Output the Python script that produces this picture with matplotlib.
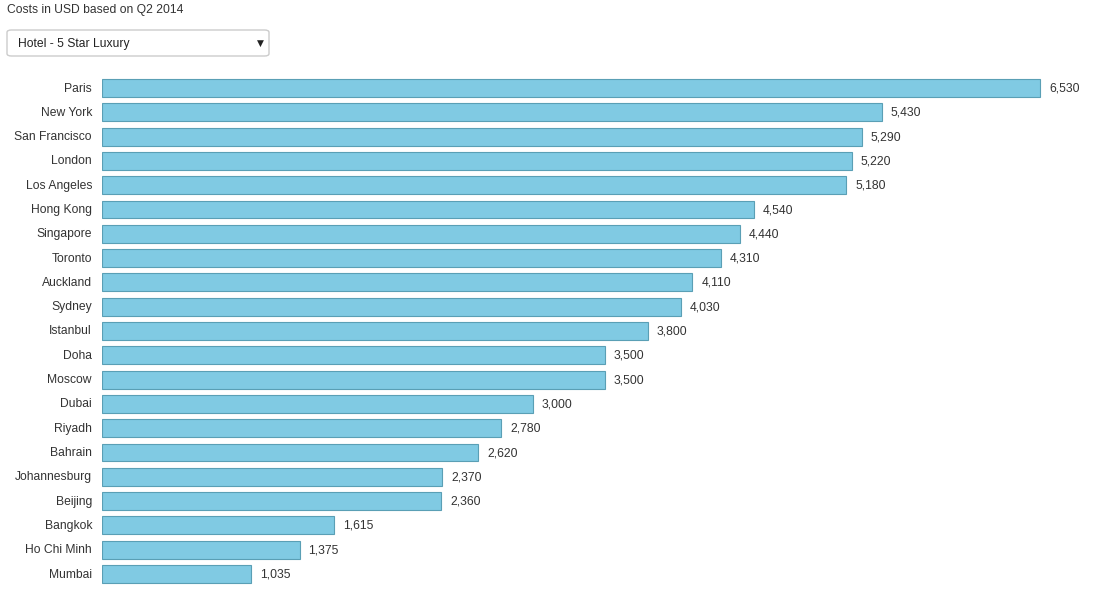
import matplotlib
matplotlib.use("Agg")
import matplotlib.pyplot as plt
from matplotlib.patches import FancyBboxPatch

cities = ["Paris", "New York", "San Francisco", "London", "Los Angeles",
          "Hong Kong", "Singapore", "Toronto", "Auckland", "Sydney",
          "Istanbul", "Doha", "Moscow", "Dubai", "Riyadh", "Bahrain",
          "Johannesburg", "Beijing", "Bangkok", "Ho Chi Minh", "Mumbai"]
costs = [6530, 5430, 5290, 5220, 5180, 4540, 4440, 4310, 4110, 4030,
         3800, 3500, 3500, 3000, 2780, 2620, 2370, 2360, 1615, 1375, 1035]

title = "Costs in USD based on Q2 2014"
selected = "Hotel - 5 Star Luxury"

W, H = 1106, 590
plt.rcParams['font.family'] = ['Liberation Sans', 'DejaVu Sans']
fig = plt.figure(figsize=(W / 100, H / 100), dpi=100)

# axes: bars start at x=102px, 0.14364 px per USD
left_px, top_px, bottom_px = 102, 75.85, 586.15
ax = fig.add_axes([left_px / W, 1 - bottom_px / H,
                   (W - left_px) / W, (bottom_px - top_px) / H])
ax.barh(range(len(cities)), costs, height=0.74, color="#80cae3",
        edgecolor="#5a9fb5", linewidth=0.8)
ax.set_xlim(0, (W - left_px) / 0.14364)
ax.set_ylim(len(cities) - 0.5, -0.5)
ax.axis("off")

fs = 8.7
for i, (c, v) in enumerate(zip(cities, costs)):
    ax.annotate(c, (0, i), xytext=(-10, 1), textcoords="offset pixels",
                ha="right", va="center_baseline", fontsize=fs, color="#333333")
    ax.annotate(f"{v:,}", (v, i), xytext=(9, 1), textcoords="offset pixels",
                ha="left", va="center_baseline", fontsize=fs, color="#333333")

fig.text(7 / W, 1 - 9 / H, title, ha="left", va="center_baseline",
         fontsize=fs, color="#333333")

box = FancyBboxPatch((7 / W, 1 - 56 / H), 262 / W, 26 / H,
                     boxstyle="round,pad=0,rounding_size=0.004",
                     transform=fig.transFigure, facecolor="white",
                     edgecolor="#cccccc", linewidth=1)
fig.patches.append(box)
fig.text(18 / W, 1 - 42.5 / H, selected, ha="left", va="center_baseline",
         fontsize=fs, color="#222222")
fig.text(260 / W, 1 - 43 / H, "\u25bc", ha="center", va="center",
         fontsize=6.5, color="#222222", family=["DejaVu Sans"])

fig.savefig("out.png", dpi=100)
